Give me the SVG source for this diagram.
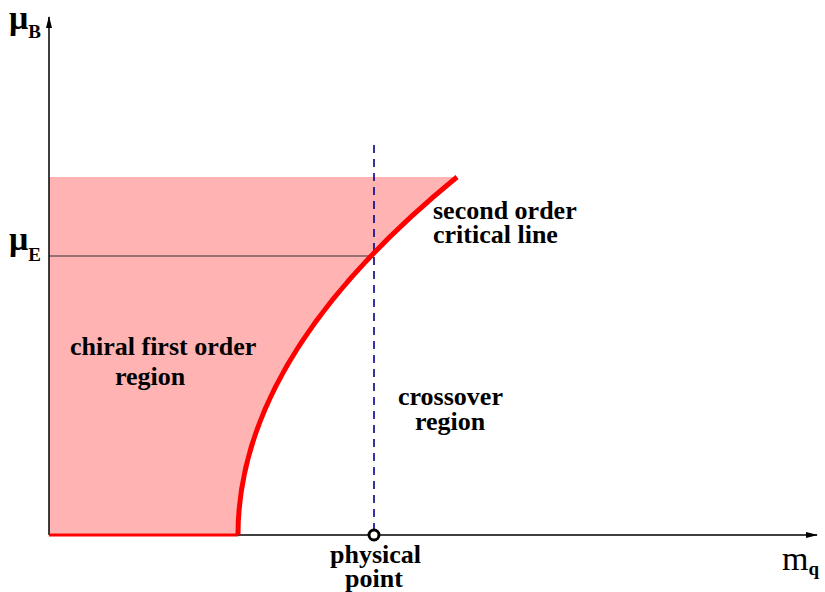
<svg xmlns="http://www.w3.org/2000/svg" width="825" height="592" viewBox="0 0 825 592">
<defs>
<marker id="arr" markerWidth="12" markerHeight="8" refX="11" refY="4" orient="auto" markerUnits="userSpaceOnUse">
<path d="M0,1 L12,4 L0,7 Z" fill="#000"/>
</marker>
<style>
.lbl{font-size:26px}
.mu{font-size:34px}
.sub{font-size:19px}
</style>
</defs>
<rect width="825" height="592" fill="#fff"/>
<g id="region">
<path d="M49,535 L238,535 Q238,356 457,177 L49,177 Z" fill="#ffb3b3"/>
</g>
<g id="connectors">
<line x1="49" y1="256" x2="370" y2="256" stroke="#333" stroke-width="1.2"/>
<line x1="374" y1="145" x2="374" y2="531" stroke="#00008b" stroke-width="1.6" stroke-dasharray="8,6"/>
<line x1="49" y1="535" x2="817" y2="535" stroke="#000" stroke-width="1.5" marker-end="url(#arr)"/>
<line x1="49" y1="535" x2="49" y2="17" stroke="#000" stroke-width="1.5" marker-end="url(#arr)"/>
<line x1="49" y1="535" x2="238" y2="535" stroke="#ff0000" stroke-width="3"/>
<path d="M238,535 Q238,356 457,177" fill="none" stroke="#ff0000" stroke-width="5"/>
</g>
<g font-family="Liberation Serif, Times New Roman, serif" font-weight="bold" fill="#000">
<g id="physical-point">
<circle cx="374" cy="535" r="5" fill="#fff" stroke="#000" stroke-width="3"/>
<text class="lbl" x="330" y="563">physical</text>
<text class="lbl" x="345" y="587">point</text>
</g>
<g id="axis-labels">
<text x="9" y="29" class="mu">μ<tspan class="sub" dy="9">B</tspan></text>
<text x="9" y="250" class="mu">μ<tspan class="sub" dy="11">E</tspan></text>
<text x="782" y="570" class="mu" font-weight="normal">m<tspan class="sub" dy="5" font-size="21" font-weight="bold">q</tspan></text>
</g>
<g id="labels">
<text class="lbl" x="433" y="219">second order</text>
<text class="lbl" x="433" y="243">critical line</text>
<text class="lbl" x="70" y="355">chiral first order</text>
<text class="lbl" x="115" y="385">region</text>
<text class="lbl" x="398" y="405">crossover</text>
<text class="lbl" x="415" y="430">region</text>
</g>
</g>
</svg>
